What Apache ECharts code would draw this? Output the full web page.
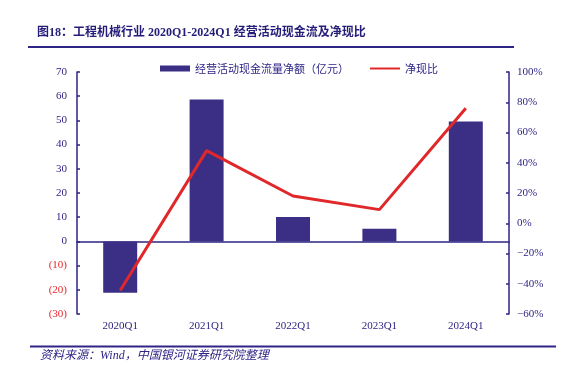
<!DOCTYPE html>
<html>
<head>
<meta charset="utf-8">
<script src="https://cdn.jsdelivr.net/npm/echarts@6/dist/echarts.min.js"></script>
<style>
html,body{margin:0;padding:0;background:#fff;}
#c{width:566px;height:379px;}
</style>
</head>
<body>
<div id="c"></div>
<script>
var categories = ['2020Q1', '2021Q1', '2022Q1', '2023Q1', '2024Q1'];
var cashFlow = [-21.2, 58.6, 10.1, 5.2, 49.5];
var netRatio = [-44.5, 48, 18, 9, 76];
var leftTicks = {min: -30, max: 70, interval: 10};
var rightTicks = {min: -60, max: 100, interval: 20};
var barName = '经营活动现金流量净额（亿元）';
var lineName = '净现比';

var navy = '#2e2585';
var barColor = '#3b2f85';
var red = '#e0282a';
var serif = '"Liberation Serif", "Noto Sans CJK SC", serif';
var cjk = '"Noto Sans CJK SC", sans-serif';

var chart = echarts.init(document.getElementById('c'), null, {renderer: 'canvas'});
chart.setOption({
  animation: false,
  backgroundColor: '#fff',
  grid: {left: 77, right: 57, top: 72, bottom: 65, containLabel: false},
  legend: {
    left: 155, top: 58,
    itemWidth: 30, itemHeight: 6, itemGap: 20,
    textStyle: {color: navy, fontSize: 11, fontFamily: cjk},
    data: [{name: barName, icon: 'rect'}, {name: lineName, itemStyle: {opacity: 0}}]
  },
  graphic: [
    {type: 'text', left: 37, top: 27, style: {text: '图18：工程机械行业 2020Q1-2024Q1 经营活动现金流及净现比', fill: '#241c78', font: 'bold 12px "Liberation Serif", "Noto Sans CJK SC", serif'}},
    {type: 'rect', shape: {x: 28, y: 46, width: 486, height: 2}, style: {fill: navy}},
    {type: 'rect', shape: {x: 30, y: 345.5, width: 526, height: 2}, style: {fill: navy}},
    {type: 'text', left: 40, top: 350, style: {text: '资料来源：Wind，中国银河证券研究院整理', fill: navy, font: 'italic 12px "Liberation Serif", "Noto Sans CJK SC", serif'}}
  ],
  xAxis: [
    {type: 'category', data: categories, position: 'bottom',
     axisLine: {show: true, onZero: true, lineStyle: {color: navy, width: 1.5}},
     axisTick: {show: false}, axisLabel: {show: false}, splitLine: {show: false}},
    {type: 'category', data: categories, position: 'bottom',
     axisLine: {show: false, onZero: false}, axisTick: {show: false},
     axisLabel: {show: true, color: navy, fontSize: 11, fontFamily: serif, margin: 7},
     splitLine: {show: false}}
  ],
  yAxis: [
    {type: 'value', min: leftTicks.min, max: leftTicks.max, interval: leftTicks.interval, position: 'left',
     axisLine: {show: true, onZero: false, lineStyle: {color: navy, width: 1.5}},
     axisTick: {show: true, inside: true, length: 3, lineStyle: {color: navy, width: 1.5}},
     splitLine: {show: false},
     axisLabel: {
       margin: 10, fontFamily: serif, fontSize: 11,
       formatter: function (v) { return v < 0 ? '{n|(' + (-v) + ')}' : '{p|' + v + '}'; },
       rich: {n: {color: '#e8262a', fontFamily: serif, fontSize: 11}, p: {color: navy, fontFamily: serif, fontSize: 11}}
     }},
    {type: 'value', min: rightTicks.min, max: rightTicks.max, interval: rightTicks.interval, position: 'right',
     axisLine: {show: true, onZero: false, lineStyle: {color: navy, width: 1.5}},
     axisTick: {show: true, inside: true, length: 3, lineStyle: {color: navy, width: 1.5}},
     splitLine: {show: false},
     axisLabel: {
       margin: 8, color: navy, fontFamily: serif, fontSize: 11,
       formatter: function (v) { return (v < 0 ? '\u2212' + (-v) : v) + '%'; }
     }}
  ],
  series: [
    {name: barName, type: 'bar', data: cashFlow, xAxisIndex: 0, yAxisIndex: 0,
     barWidth: 34, itemStyle: {color: barColor}},
    {name: lineName, type: 'line', data: netRatio, xAxisIndex: 0, yAxisIndex: 1,
     symbol: 'none', lineStyle: {color: red, width: 3}, itemStyle: {color: red}, z: 5}
  ]
});
</script>
</body>
</html>
